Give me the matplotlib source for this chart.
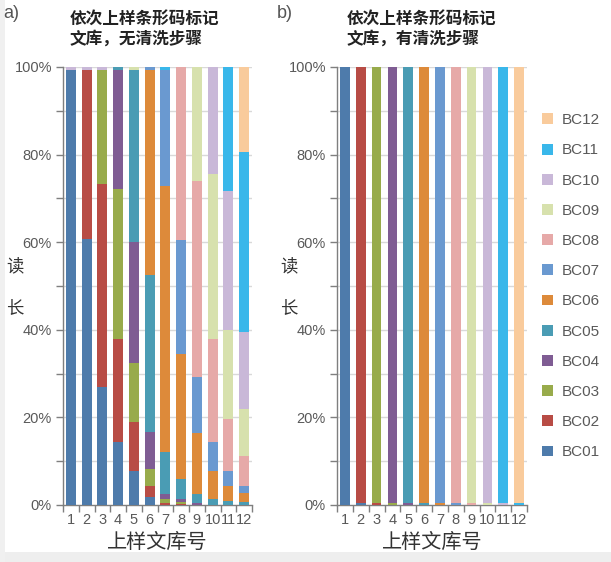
import matplotlib.pyplot as plt
from matplotlib.patches import Patch, Rectangle
import numpy as np

plt.rcParams["font.family"] = ["Liberation Sans", "Noto Sans CJK SC", "DejaVu Sans"]

libraries = ["1", "2", "3", "4", "5", "6", "7", "8", "9", "10", "11", "12"]
barcodes = ["BC01", "BC02", "BC03", "BC04", "BC05", "BC06",
            "BC07", "BC08", "BC09", "BC10", "BC11", "BC12"]
colors = ["#4e7bab", "#b84c45", "#98ab4b", "#7f5c93", "#4a9cb4", "#dd8a3a",
          "#6a99d0", "#e6a9a8", "#d7e1ad", "#c9b8d8", "#39b7ea", "#f9cb9c"]

# a) no wash step, read share (%) of each barcode per library
a_bc01 = [99.3, 60.7, 27.0, 14.3, 7.8, 1.8, 0.1, 0, 0, 0, 0, 0]
a_bc02 = [0, 38.6, 46.3, 23.7, 11.2, 2.6, 0.3, 0.3, 0, 0, 0, 0]
a_bc03 = [0, 0, 26.0, 34.1, 13.5, 3.8, 1.0, 0.3, 0, 0, 0, 0]
a_bc04 = [0, 0, 0, 27.2, 27.6, 8.5, 1.1, 0.8, 0.4, 0, 0, 0]
a_bc05 = [0, 0, 0, 0.7, 39.2, 35.9, 9.5, 4.5, 2.1, 1.4, 1.0, 0.6]
a_bc06 = [0, 0, 0, 0, 0, 46.7, 60.9, 28.5, 13.9, 6.4, 3.4, 2.1]
a_bc07 = [0, 0, 0, 0, 0, 0.7, 26.4, 26.0, 12.8, 6.5, 3.4, 1.7]
a_bc08 = [0, 0, 0, 0, 0, 0, 0, 39.6, 44.7, 23.5, 11.9, 6.8]
a_bc09 = [0, 0, 0, 0, 0.7, 0, 0, 0, 26.1, 37.8, 20.2, 10.7]
a_bc10 = [0.7, 0.7, 0.7, 0, 0, 0, 0, 0, 0, 24.4, 31.7, 17.7]
a_bc11 = [0, 0, 0, 0, 0, 0, 0.7, 0, 0, 0, 28.4, 40.9]
a_bc12 = [0, 0, 0, 0, 0, 0, 0, 0, 0, 0, 0, 19.5]

# b) with wash step
b_bc01 = [100, 0.5, 0, 0, 0, 0, 0, 0, 0, 0, 0, 0]
b_bc02 = [0, 99.5, 0.5, 0, 0, 0, 0, 0, 0, 0, 0, 0]
b_bc03 = [0, 0, 99.5, 0.5, 0, 0, 0, 0, 0, 0, 0, 0]
b_bc04 = [0, 0, 0, 99.5, 0.5, 0, 0, 0, 0, 0, 0, 0]
b_bc05 = [0, 0, 0, 0, 99.5, 0.5, 0, 0, 0, 0, 0, 0]
b_bc06 = [0, 0, 0, 0, 0, 99.5, 0.5, 0, 0, 0, 0, 0]
b_bc07 = [0, 0, 0, 0, 0, 0, 99.5, 0.5, 0, 0, 0, 0]
b_bc08 = [0, 0, 0, 0, 0, 0, 0, 99.5, 0.5, 0, 0, 0]
b_bc09 = [0, 0, 0, 0, 0, 0, 0, 0, 99.5, 0.5, 0, 0]
b_bc10 = [0, 0, 0, 0, 0, 0, 0, 0, 0, 99.5, 0.5, 0]
b_bc11 = [0, 0, 0, 0, 0, 0, 0, 0, 0, 0, 99.5, 0.5]
b_bc12 = [0, 0, 0, 0, 0, 0, 0, 0, 0, 0, 0, 99.5]

series_a = [a_bc01, a_bc02, a_bc03, a_bc04, a_bc05, a_bc06,
            a_bc07, a_bc08, a_bc09, a_bc10, a_bc11, a_bc12]
series_b = [b_bc01, b_bc02, b_bc03, b_bc04, b_bc05, b_bc06,
            b_bc07, b_bc08, b_bc09, b_bc10, b_bc11, b_bc12]

TICK_GRAY = "#595959"
CJK = ["Noto Sans CJK SC", "DejaVu Sans"]

fig = plt.figure(figsize=(6.11, 5.62), dpi=100, facecolor="white")
# light grey frame strips seen in the reference
fig.patches.append(Rectangle((0, 0), 1, 10 / 562, transform=fig.transFigure,
                             facecolor="#eeeeee", edgecolor="none", zorder=0))
fig.patches.append(Rectangle((0, 0), 5 / 611, 1, transform=fig.transFigure,
                             facecolor="#f0f0f0", edgecolor="none", zorder=0))


def draw_panel(ax, series, letter, title, letter_x, title_x):
    x = np.arange(1, 13)
    bottom = np.zeros(12)
    for vals, c in zip(series, colors):
        vals = np.array(vals, dtype=float)
        ax.bar(x, vals, bottom=bottom, width=0.62, color=c, edgecolor="none",
               zorder=3)
        bottom += vals

    ax.set_xlim(0.5, 12.5)
    ax.set_ylim(0, 100)
    ax.set_yticks(np.arange(0, 101, 20))
    ax.set_yticklabels([f"{v}%" for v in range(0, 101, 20)])
    ax.set_yticks(np.arange(10, 100, 20), minor=True)
    ax.set_xticks(x)
    ax.set_xticklabels(libraries)
    ax.set_xticks(np.arange(0.5, 13, 1), minor=True)

    for y in np.arange(10, 101, 10):
        ax.axhline(y, color="#d9d9d9", lw=1.0, zorder=1)

    for side in ["top", "right"]:
        ax.spines[side].set_visible(False)
    for side in ["left", "bottom"]:
        ax.spines[side].set_color("#7f7f7f")
        ax.spines[side].set_linewidth(1.0)

    ax.tick_params(axis="y", which="both", length=5, width=1, color="#7f7f7f",
                   labelsize=10.5, labelcolor=TICK_GRAY, pad=3)
    ax.tick_params(axis="x", which="major", length=0, labelsize=10.5,
                   labelcolor=TICK_GRAY, pad=6)
    ax.tick_params(axis="x", which="minor", length=5, width=1, color="#7f7f7f")

    ax.set_xlabel("上样文库号", family=CJK, fontsize=14.5, color="#333333",
                  labelpad=3)

    pos = ax.get_position()
    fig.text(pos.x0 - 48 / 611, 1 - 266 / 562, "读", family=CJK,
             fontsize=12.5, color="#333333", ha="center", va="center")
    fig.text(pos.x0 - 48 / 611, 1 - 308 / 562, "长", family=CJK,
             fontsize=12.5, color="#333333", ha="center", va="center")
    fig.text(letter_x / 611, 1 - 13 / 562, letter, fontsize=13,
             color="#555555", ha="left", va="center")
    fig.text(title_x / 611, 1 - 10 / 562, title, family=CJK, fontsize=12,
             fontweight="bold", color="#222222", ha="left", va="top",
             linespacing=1.15)


ax_a = fig.add_axes([63 / 611, 1 - 505 / 562, 189 / 611, 438 / 562])
ax_b = fig.add_axes([337 / 611, 1 - 505 / 562, 190 / 611, 438 / 562])

draw_panel(ax_a, series_a, "a)", "依次上样条形码标记\n文库，无清洗步骤", 3, 70)
draw_panel(ax_b, series_b, "b)", "依次上样条形码标记\n文库，有清洗步骤", 277, 347)

handles = [Patch(facecolor=c, edgecolor="none") for c in colors][::-1]
fig.legend(handles, barcodes[::-1], loc="upper left",
           bbox_to_anchor=(530 / 611, 1 - 101 / 562), frameon=False,
           fontsize=11, labelcolor=TICK_GRAY, handlelength=0.72,
           handleheight=0.72, handletextpad=0.55, labelspacing=1.06,
           borderpad=0.3)

fig.savefig("out.png", dpi=100, facecolor=fig.get_facecolor())
